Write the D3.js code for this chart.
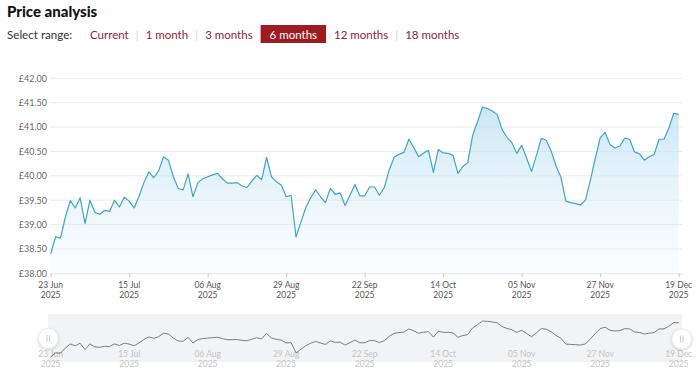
<!DOCTYPE html>
<html><head><meta charset="utf-8">
<script src="https://cdn.jsdelivr.net/npm/d3@7/dist/d3.min.js"></script>
<style>
body{margin:0;background:#fff;}
svg{display:block;font-family:Lato,"Open Sans",sans-serif;}
</style>
</head><body>
<svg id="c" width="700" height="379"></svg>
<script>
// ---- data (one value per trading day, 23 Jun 2025 .. 19 Dec 2025) ----
const prices = [
38.40,38.75,38.72,39.16,39.49,39.34,39.55,39.02,39.50,39.25,
39.21,39.29,39.27,39.50,39.36,39.56,39.48,39.34,39.58,39.86,
40.08,39.96,40.10,40.39,40.32,39.98,39.74,39.71,40.04,39.57,
39.86,39.94,39.98,40.02,40.05,39.94,39.85,39.85,39.86,39.79,
39.76,39.89,40.01,39.92,40.38,39.98,39.88,39.81,39.57,39.60,
38.75,39.05,39.35,39.55,39.71,39.57,39.45,39.74,39.62,39.65,
39.39,39.60,39.82,39.59,39.59,39.77,39.77,39.60,39.76,40.12,
40.38,40.44,40.48,40.75,40.58,40.39,40.47,40.52,40.07,40.54,
40.47,40.46,40.42,40.05,40.19,40.27,40.83,41.11,41.41,41.38,
41.33,41.26,40.95,40.79,40.68,40.46,40.63,40.36,40.09,40.42,
40.77,40.73,40.51,40.20,39.97,39.48,39.45,39.43,39.40,39.50,
39.91,40.36,40.78,40.89,40.64,40.57,40.61,40.77,40.75,40.49,
40.45,40.32,40.39,40.44,40.75,40.75,40.98,41.28,41.26
];
const tickIndex = [0,16,32,48,64,80,96,112,128];
const tickDays = ["23 Jun","15 Jul","06 Aug","29 Aug","22 Sep","14 Oct","05 Nov","27 Nov","19 Dec"];
const tickYear = "2025";
const yTicks = [38.0,38.5,39.0,39.5,40.0,40.5,41.0,41.5,42.0];
const rangeButtons = ["Current","1 month","3 months","6 months","12 months","18 months"];
const activeRange = "6 months";
const titleText = "Price analysis";
const selectLabel = "Select range:";

// ---- drawing ----
const svg = d3.select("#c");
const red = "#9c1c22", txtRed = "#8a2636";

svg.append("text").attr("x",7).attr("y",17).text(titleText)
  .attr("font-size",15).attr("font-weight",900).attr("fill","#111");
svg.append("text").attr("x",7).attr("y",39).text(selectLabel)
  .attr("font-size",11.6).attr("fill","#333");

let bx = 90;
const btnG = svg.append("g");
rangeButtons.forEach((lab,i)=>{
  const isA = lab===activeRange;
  const t = btnG.append("text").attr("x",bx).attr("y",39).text(lab)
    .attr("font-size",11.5).attr("fill", isA? "#fff" : txtRed);
  const w = t.node().getComputedTextLength();
  if(isA){
    btnG.insert("rect","text:last-child").attr("x",bx-9).attr("y",25).attr("width",w+18).attr("height",18).attr("fill",red);
  }
  const next = rangeButtons[i+1];
  if(next && !isA && next!==activeRange){
    btnG.append("line").attr("x1",bx+w+8.5).attr("x2",bx+w+8.5).attr("y1",30).attr("y2",41)
      .attr("stroke","#ddd").attr("stroke-width",1);
  }
  bx += w + 17;
});

const x = d3.scaleLinear().domain([0,prices.length-1]).range([50.7,678.7]);
const y = d3.scaleLinear().domain([38,42]).range([273.3,78.3]);

// grid
svg.append("g").selectAll("line").data(yTicks.slice(1)).join("line")
  .attr("x1",50).attr("x2",682).attr("y1",d=>y(d)).attr("y2",d=>y(d))
  .attr("stroke","#ebebeb").attr("stroke-width",1);

// y axis labels
const ya = svg.append("g").attr("transform","translate(47,0)")
  .call(d3.axisLeft(y).tickValues(yTicks).tickSize(0).tickPadding(0).tickFormat(d=>"£"+d.toFixed(2)));
ya.select(".domain").remove();
ya.selectAll("text").attr("font-family","Lato, sans-serif").attr("font-size",9).attr("fill","#6a6a6a");

// area gradient
const defs = svg.append("defs");
const gr = defs.append("linearGradient").attr("id","ag").attr("x1",0).attr("y1",0).attr("x2",0).attr("y2",1);
gr.append("stop").attr("offset","0%").attr("stop-color","#b9def2").attr("stop-opacity",0.75);
gr.append("stop").attr("offset","100%").attr("stop-color","#e6f3fa").attr("stop-opacity",0.2);
const f = defs.append("filter").attr("id","sh").attr("x","-50%").attr("y","-50%").attr("width","200%").attr("height","200%");
f.append("feDropShadow").attr("dx",0).attr("dy",1).attr("stdDeviation",1.5).attr("flood-color","#000").attr("flood-opacity",0.18);

svg.append("path").datum(prices)
  .attr("d", d3.area().x((d,i)=>x(i)).y0(y(38)).y1(d=>y(d)))
  .attr("fill","url(#ag)");
svg.append("path").datum(prices)
  .attr("d", d3.line().x((d,i)=>x(i)).y(d=>y(d)))
  .attr("fill","none").attr("stroke","#3ea6c2").attr("stroke-width",1.2).attr("stroke-linejoin","round");

// x axis
const xa = svg.append("g").attr("transform",`translate(0,${y(38)})`)
  .call(d3.axisBottom(x).tickValues(tickIndex).tickSize(4).tickSizeOuter(0).tickFormat(()=>""));
xa.select(".domain").attr("d","M50,0.5H682").attr("stroke","#e3e3e3");
xa.selectAll(".tick line").attr("stroke","#ccc");
xa.selectAll(".tick text").remove();
const xg = svg.append("g").attr("font-size",8.5).attr("fill","#555").attr("text-anchor","middle");
xg.selectAll("text.d").data(tickIndex).join("text").attr("class","d")
  .attr("x",d=>x(d)).attr("y",288).text((d,i)=>tickDays[i]);
xg.selectAll("text.yr").data(tickIndex).join("text").attr("class","yr")
  .attr("x",d=>x(d)).attr("y",298).text(tickYear);

// navigator
svg.append("rect").attr("x",48).attr("y",314).attr("width",634).attr("height",48).attr("fill","#f2f3f4");
const ny = d3.scaleLinear().domain(d3.extent(prices)).range([357,321]);
const ng = svg.append("g").attr("font-size",8.5).attr("fill","#c4c4c4").attr("text-anchor","middle");
ng.selectAll("text.d").data(tickIndex).join("text").attr("class","d")
  .attr("x",d=>x(d)).attr("y",357).text((d,i)=>tickDays[i]);
ng.selectAll("text.yr").data(tickIndex).join("text").attr("class","yr")
  .attr("x",d=>x(d)).attr("y",367).text(tickYear);
svg.append("path").datum(prices)
  .attr("d", d3.line().x((d,i)=>x(i)).y(d=>ny(d)))
  .attr("fill","none").attr("stroke","#6f6f6f").attr("stroke-width",0.9);

[[48.3,338.5],[681.7,339]].forEach(([cx,cy])=>{
  svg.append("circle").attr("cx",cx).attr("cy",cy).attr("r",10).attr("fill","#fff")
    .attr("stroke","#e8e8e8").attr("filter","url(#sh)");
  [-1.3,1.3].forEach(dx=>svg.append("line").attr("x1",cx+dx).attr("x2",cx+dx)
    .attr("y1",cy-3.5).attr("y2",cy+3.5).attr("stroke","#bbb").attr("stroke-width",0.8));
});
</script>
</body></html>
